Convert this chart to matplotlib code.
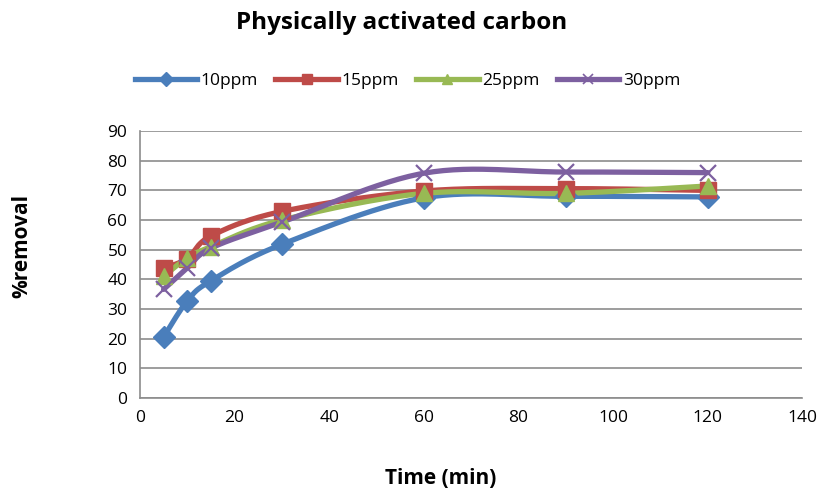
import numpy as np
import matplotlib.pyplot as plt
from matplotlib.lines import Line2D

time_min = [5, 10, 15, 30, 60, 90, 120]
series_names = ["10ppm", "15ppm", "25ppm", "30ppm"]
removal_10 = [20.5, 32.7, 39.5, 51.8, 67.5, 68.0, 67.8]
removal_15 = [43.8, 47.0, 54.6, 62.9, 69.8, 70.6, 70.0]
removal_25 = [41.0, 47.2, 51.0, 60.0, 69.0, 69.0, 71.5]
removal_30 = [36.6, 43.8, 50.5, 59.3, 75.8, 76.2, 76.0]

colors = ["#4A7EBB", "#BE4B48", "#98B954", "#7D60A0"]
markers = ["D", "s", "^", "x"]


def smooth(x, y, n=30):
    # Excel-style smoothed line: cubic Bezier with 1/6 tangents
    p = np.column_stack([x, y]).astype(float)
    pts = [p[0]]
    for i in range(len(p) - 1):
        p0 = p[i - 1] if i > 0 else p[i]
        p3 = p[i + 2] if i + 2 < len(p) else p[i + 1]
        c1 = p[i] + (p[i + 1] - p0) / 6
        c2 = p[i + 1] - (p3 - p[i]) / 6
        t = np.linspace(0, 1, n)[1:, None]
        seg = ((1 - t) ** 3 * p[i] + 3 * (1 - t) ** 2 * t * c1
               + 3 * (1 - t) * t ** 2 * c2 + t ** 3 * p[i + 1])
        pts.extend(seg)
    pts = np.array(pts)
    return pts[:, 0], pts[:, 1]


plt.rcParams['font.family'] = ['Open Sans', 'DejaVu Sans']

fig = plt.figure(figsize=(8.23, 4.93), dpi=100)
ax = fig.add_axes([0.170, 0.193, 0.805, 0.541])

all_series = [removal_10, removal_15, removal_25, removal_30]
handles = []
for name, vals, c, m in zip(series_names, all_series, colors, markers):
    sx, sy = smooth(time_min, vals)
    ax.plot(sx, sy, color=c, lw=3.8, zorder=3, solid_capstyle='round')
    if m == "x":
        ax.plot(time_min, vals, ls='none', marker=m, ms=12, mew=1.6,
                color=c, zorder=4)
    else:
        ax.plot(time_min, vals, ls='none', marker=m,
                ms=11 if m == "D" else 12, color=c, zorder=4)
    handles.append(Line2D([], [], color=c, lw=3.8, marker=m,
                          ms=7, mew=1.2 if m == "x" else 1))

ax.set_xlim(0, 140)
ax.set_ylim(0, 90)
ax.set_xticks(range(0, 141, 20))
ax.set_yticks(range(0, 91, 10))
ax.grid(axis='y', color='#8C8C8C', lw=1.2)
ax.set_axisbelow(True)
for side in ['top', 'right']:
    ax.spines[side].set_visible(False)
for side in ['left', 'bottom']:
    ax.spines[side].set_color('#8C8C8C')
    ax.spines[side].set_linewidth(1.2)
ax.tick_params(length=0, labelsize=12.5, pad=9)

fig.text(0.488, 0.953, "Physically activated carbon", ha='center', va='center',
         fontsize=17.5, fontweight='bold')
fig.text(0.027, 0.5, "%removal", rotation=90, ha='center', va='center',
         fontsize=15, fontweight='bold')
fig.text(0.536, 0.03, "Time (min)", ha='center', va='center',
         fontsize=15, fontweight='bold')

fig.legend(handles, series_names, loc='center', bbox_to_anchor=(0.495, 0.835),
           ncol=4, frameon=False, fontsize=12.5, handlelength=3.6,
           columnspacing=1.0, handletextpad=0.2)

fig.savefig("out.png", dpi=100)
